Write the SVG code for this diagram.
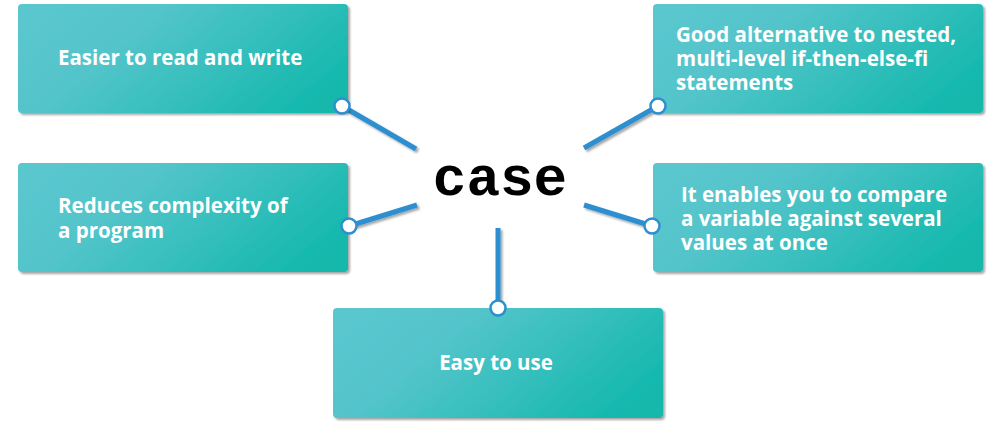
<svg xmlns="http://www.w3.org/2000/svg" width="1000" height="428" viewBox="0 0 1000 428">
<defs>
<linearGradient id="g" x1="0" y1="0.3" x2="1" y2="0.7">
<stop offset="0" stop-color="#5ac6ce"/>
<stop offset="0.3" stop-color="#52c4ca"/>
<stop offset="1" stop-color="#12b8ac"/>
</linearGradient>
<filter id="sh" x="-10%" y="-10%" width="120%" height="130%">
<feDropShadow dx="2" dy="2" stdDeviation="1.2" flood-color="#000" flood-opacity="0.35"/>
</filter>
</defs>
<style>
.box{fill:url(#g);filter:url(#sh)}
.t{font-family:"Open Sans","Liberation Sans",sans-serif;font-weight:bold;font-size:20.5px;fill:#fff}
.c{stroke:#2d8fd0;stroke-width:5;fill:none}
.dot{fill:#fff;stroke:#2d8fd0;stroke-width:2.5}
</style>
<rect width="1000" height="428" fill="#fff"/>
<g id="connectors" filter="url(#sh)">
<line class="c" x1="342" y1="106" x2="416" y2="149"/>
<line class="c" x1="658" y1="106" x2="584" y2="148"/>
<line class="c" x1="349" y1="226" x2="417" y2="205"/>
<line class="c" x1="652" y1="226" x2="584" y2="205"/>
<line class="c" x1="498" y1="228" x2="498" y2="308"/>
</g>
<g id="center">
<text x="500" y="195" text-anchor="middle" font-family="'Liberation Mono','Courier New',monospace" font-weight="bold" font-size="56" fill="#000">case</text>
</g>
<g id="n1">
<rect class="box" x="18" y="4" width="330" height="109" rx="4"/>
<text class="t" x="58" y="65">Easier to read and write</text>
<circle class="dot" cx="342" cy="106" r="7.5"/>
</g>
<g id="n2">
<rect class="box" x="653" y="4" width="330" height="109" rx="4"/>
<text class="t" x="676" y="42">Good alternative to nested,</text>
<text class="t" x="676" y="66">multi-level if-then-else-fi</text>
<text class="t" x="676" y="90">statements</text>
<circle class="dot" cx="658" cy="106" r="7.5"/>
</g>
<g id="n3">
<rect class="box" x="18" y="163" width="330" height="109" rx="4"/>
<text class="t" x="58" y="213">Reduces complexity of</text>
<text class="t" x="58" y="238">a program</text>
<circle class="dot" cx="349" cy="226" r="7.5"/>
</g>
<g id="n4">
<rect class="box" x="653" y="163" width="330" height="109" rx="4"/>
<text class="t" x="681" y="202">It enables you to compare</text>
<text class="t" x="681" y="226">a variable against several</text>
<text class="t" x="681" y="250">values at once</text>
<circle class="dot" cx="652" cy="226" r="7.5"/>
</g>
<g id="n5">
<rect class="box" x="333" y="308" width="330" height="110" rx="4"/>
<text class="t" x="496" y="370" text-anchor="middle">Easy to use</text>
<circle class="dot" cx="498" cy="308" r="7.5"/>
</g>
</svg>
